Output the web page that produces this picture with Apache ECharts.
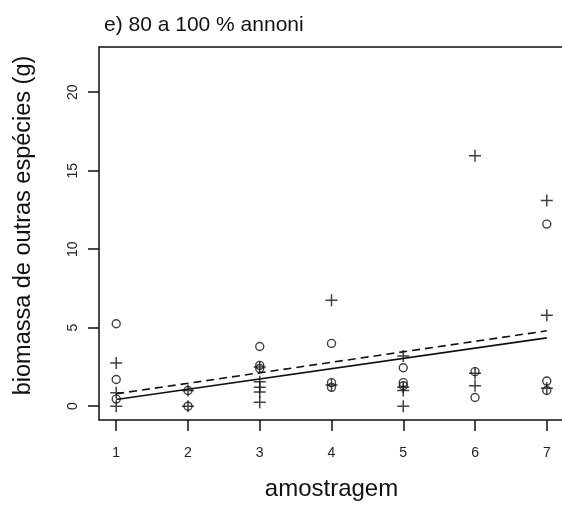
<!DOCTYPE html>
<html>
<head>
<meta charset="utf-8">
<script src="https://cdn.jsdelivr.net/npm/echarts@6/dist/echarts.min.js"></script>
<style>
  html, body { margin: 0; padding: 0; background: #fff; }
  #chart { width: 562px; height: 505px; }
</style>
</head>
<body>
<div id="chart"></div>
<script>
// Sampling occasions on the x axis
const amostragem = [1, 2, 3, 4, 5, 6, 7];

// Biomass (g) per sampling occasion, one list per occasion
const circulos = [
  [5.25, 1.7, 0.45],
  [1.0, 0.0],
  [3.8, 2.6, 2.4],
  [4.0, 1.5, 1.2],
  [2.45, 1.5, 1.3],
  [2.2, 0.55],
  [11.6, 1.6, 1.0]
];
const cruzes = [
  [2.75, 0.85, 0.0],
  [1.0, 0.0],
  [2.5, 1.55, 1.2, 0.9, 0.25],
  [6.75, 1.35],
  [3.2, 1.2, 1.0, 0.0],
  [15.95, 2.1, 1.3],
  [13.1, 5.8, 1.15]
];

// Fitted regression lines, values at the first and last occasion
const ajusteX = [1, 7];
const ajusteCirculos = [0.43, 4.35];
const ajusteCruzes = [0.79, 4.8];

// Tick labels
const xTicks = [1, 2, 3, 4, 5, 6, 7];
const yTicks = [0, 5, 10, 15, 20];

function pontos(grupos) {
  const out = [];
  grupos.forEach((vals, i) => vals.forEach(v => out.push([amostragem[i], v])));
  return out;
}
function linha(ys) {
  return ajusteX.map((x, i) => [x, ys[i]]);
}

const FONT = '"Liberation Sans", Arial, sans-serif';
const chart = echarts.init(document.getElementById('chart'), null, { renderer: 'canvas' });

chart.setOption({
  animation: false,
  backgroundColor: '#ffffff',
  title: {
    text: 'e) 80 a 100 % annoni',
    left: 99, top: 10,
    textStyle: { fontFamily: FONT, fontSize: 21, fontWeight: 'normal', color: '#111' }
  },
  grid: {
    left: 99, top: 47, right: -2, bottom: 85,
    outerBoundsMode: 'none', containLabel: false,
    show: true, borderColor: '#111', borderWidth: 1.5, backgroundColor: 'transparent'
  },
  xAxis: {
    type: 'value', min: 0.76, max: 7.24,
    name: 'amostragem', nameLocation: 'middle', nameGap: 57,
    nameTextStyle: { fontFamily: FONT, fontSize: 24, color: '#111' },
    axisLine: { show: false, onZero: false },
    splitLine: { show: false },
    axisTick: { show: true, length: 11, customValues: xTicks, lineStyle: { color: '#111', width: 1.5 } },
    axisLabel: { customValues: xTicks, margin: 26, fontFamily: FONT, fontSize: 14, color: '#222' }
  },
  yAxis: {
    type: 'value', min: -0.88, max: 22.88,
    name: 'biomassa de outras espécies (g)', nameLocation: 'middle', nameGap: 63,
    nameTextStyle: { fontFamily: FONT, fontSize: 23.5, color: '#111', padding: [0, 0, 0, 16] },
    axisLine: { show: false, onZero: false },
    splitLine: { show: false },
    axisTick: { show: true, length: 11, customValues: yTicks, lineStyle: { color: '#111', width: 1.5 } },
    axisLabel: { customValues: yTicks, rotate: 90, margin: 19, fontFamily: FONT, fontSize: 14, color: '#222' }
  },
  series: [
    {
      type: 'scatter',
      data: pontos(circulos),
      symbol: 'circle', symbolSize: 8,
      itemStyle: { color: 'transparent', borderColor: '#111', borderWidth: 1.4 }
    },
    {
      type: 'scatter',
      data: pontos(cruzes),
      symbol: 'path://M6,0V12M0,6H12', symbolSize: 12, symbolKeepAspect: true,
      itemStyle: { color: 'transparent', borderColor: '#111', borderWidth: 1.5 }
    },
    {
      type: 'line',
      data: linha(ajusteCirculos),
      symbol: 'none',
      lineStyle: { color: '#111', width: 1.6, type: 'solid' }
    },
    {
      type: 'line',
      data: linha(ajusteCruzes),
      symbol: 'none',
      lineStyle: { color: '#111', width: 1.6, type: [8, 5] }
    }
  ]
});
</script>
</body>
</html>
